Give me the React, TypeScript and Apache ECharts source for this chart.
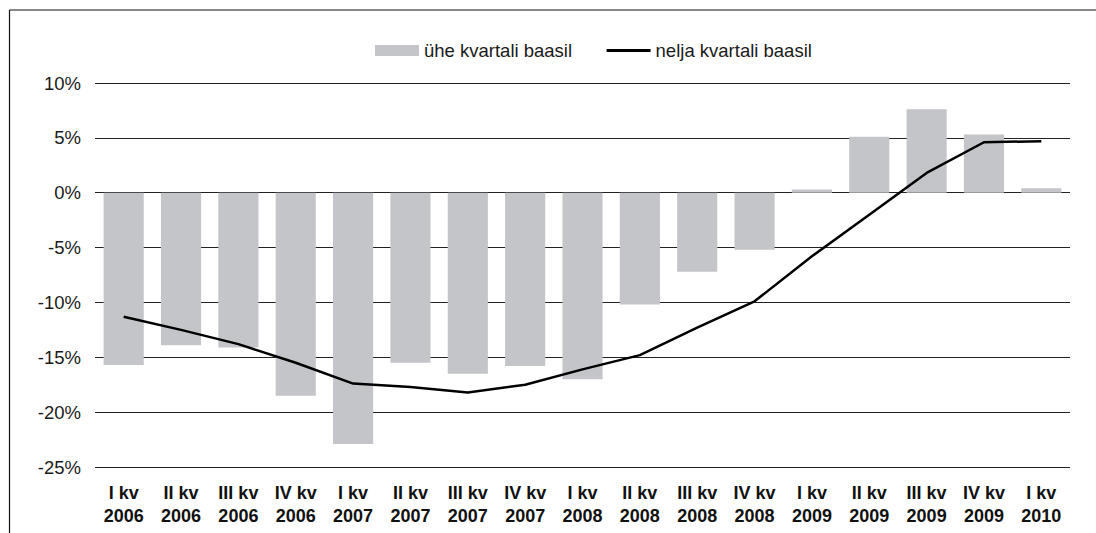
import React, { useEffect, useRef } from "react";
import * as echarts from "echarts";

const quarters = ["I kv", "II kv", "III kv", "IV kv", "I kv", "II kv", "III kv", "IV kv", "I kv", "II kv", "III kv", "IV kv", "I kv", "II kv", "III kv", "IV kv", "I kv"];
const years = ["2006", "2006", "2006", "2006", "2007", "2007", "2007", "2007", "2008", "2008", "2008", "2008", "2009", "2009", "2009", "2009", "2010"];
const categories = quarters.map((q, i) => q + "\n" + years[i]);

const oneQuarter = [-15.7, -13.9, -14.1, -18.5, -22.9, -15.5, -16.5, -15.8, -17.0, -10.2, -7.2, -5.2, 0.3, 5.1, 7.6, 5.3, 0.4];
const fourQuarters = [-11.3, -12.5, -13.8, -15.5, -17.4, -17.7, -18.2, -17.5, -16.1, -14.8, -12.3, -9.9, -5.8, -2.0, 1.8, 4.6, 4.7];

const yTicks = { min: -25, max: 10, interval: 5 };
const seriesNames = ["ühe kvartali baasil", "nelja kvartali baasil"];

const FONT = "'Liberation Sans', Arial, Helvetica, sans-serif";

export default function App() {
  const ref = useRef<HTMLDivElement>(null);
  useEffect(() => {
    if (!ref.current) return;
    const chart = echarts.init(ref.current, null, { renderer: "svg" });
    chart.setOption({
      animation: false,
      backgroundColor: "#ffffff",
      textStyle: { fontFamily: FONT },
      grid: { left: 95, right: 26, top: 83, bottom: 66, containLabel: false },
      legend: {
        left: 370,
        top: 36,
        itemWidth: 44,
        itemHeight: 11,
        itemGap: 33,
        textStyle: { fontSize: 18.5, color: "#1a1a1a", fontFamily: FONT },
        data: [
          { name: seriesNames[0], icon: "rect" },
          { name: seriesNames[1], itemStyle: { opacity: 0 }, lineStyle: { width: 3, color: "#000" } },
        ],
      },
      xAxis: {
        type: "category",
        data: categories,
        axisLine: { show: false, onZero: false },
        axisTick: { show: false },
        axisLabel: {
          interval: 0,
          margin: 14,
          fontSize: 18,
          fontWeight: "bold",
          lineHeight: 23,
          color: "#111",
          fontFamily: FONT,
        },
      },
      yAxis: {
        type: "value",
        min: yTicks.min,
        max: yTicks.max,
        interval: yTicks.interval,
        axisLine: { show: false },
        axisTick: { show: false },
        axisLabel: {
          formatter: "{value}%",
          fontSize: 18.5,
          color: "#1a1a1a",
          margin: 14,
          fontFamily: FONT,
        },
        splitLine: { lineStyle: { color: "#222", width: 1.2 } },
      },
      series: [
        {
          name: seriesNames[0],
          type: "bar",
          data: oneQuarter,
          barWidth: "70%",
          itemStyle: { color: "#c4c5c9" },
        },
        {
          name: seriesNames[1],
          type: "line",
          data: fourQuarters,
          symbol: "none",
          lineStyle: { color: "#000", width: 2.5 },
          itemStyle: { color: "#000" },
        },
      ],
      graphic: [
        { type: "line", shape: { x1: 9.5, y1: 10, x2: 1096, y2: 10 }, style: { stroke: "#111", lineWidth: 1.2 } },
        { type: "line", shape: { x1: 9.5, y1: 10, x2: 9.5, y2: 533 }, style: { stroke: "#111", lineWidth: 1.2 } },
      ],
    });
    return () => chart.dispose();
  }, []);
  return <div ref={ref} style={{ position: "absolute", left: 0, top: 0, width: 1096, height: 533 }} />;
}
